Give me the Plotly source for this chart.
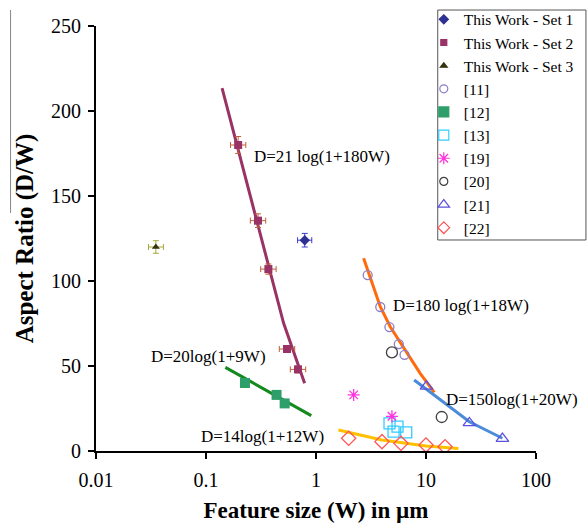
import math
import plotly.graph_objects as go

# ---------------- data ----------------
set1_w = [0.79]
set1_ar = [124]
set1_ex_plus = [0.125]
set1_ex_minus = [0.11]
set1_ey = [4]

set2_w = [0.196, 0.297, 0.369, 0.545, 0.686]
set2_ar = [180, 135.5, 107, 60, 48]
set2_ex_plus = [0.034, 0.052, 0.065, 0.095, 0.12]
set2_ex_minus = [0.029, 0.044, 0.055, 0.081, 0.102]
set2_ey = [5, 4, 3, 2, 2]

set3_w = [0.035]
set3_ar = [120]
set3_ex_plus = [0.006]
set3_ex_minus = [0.005]
set3_ey = [3.7]

ref11_w = [2.95, 3.84, 4.65, 5.66, 6.38]
ref11_ar = [103.5, 84.7, 72.9, 62.9, 56.6]

ref12_w = [0.226, 0.438, 0.519]
ref12_ar = [40, 33, 28]

ref13_w = [4.66, 5.51, 5.07, 6.61]
ref13_ar = [16.3, 14.3, 11.4, 11]

ref19_w = [2.2, 4.9]
ref19_ar = [33, 20.4]

ref20_w = [4.9, 13.9]
ref20_ar = [58, 20]

ref21_w = [10.1, 24.8, 49.5]
ref21_ar = [38, 16.5, 7.3]

ref22_w = [1.98, 3.98, 5.92, 10.0, 14.9]
ref22_ar = [7.5, 5.5, 4.5, 3.5, 2.5]

# fitted curves
fit_purple_w = [0.140, 0.508, 0.788]
fit_purple_ar = [213.4, 75.1, 39.8]

fit_green_w = [0.150, 0.906]
fit_green_ar = [49.2, 20.8]

fit_orange_w = [2.71, 3.84, 4.73, 6.71, 8.85, 11.9]
fit_orange_ar = [113.4, 84.9, 73.1, 57.5, 45.7, 34.5]

fit_blue_w = [7.81, 13.5, 24.8, 49.5]
fit_blue_ar = [41.8, 30, 17.2, 7.5]

fit_yellow_w = [1.60, 3.98, 10.0, 19.7]
fit_yellow_ar = [12.4, 6.5, 2.9, 1.5]

x_tickvals = [0.01, 0.1, 1, 10, 100]
x_ticktext = ["0.01", "0.1", "1", "10", "100"]
y_tickvals = [0, 50, 100, 150, 200, 250]

legend_names = ["This Work - Set 1", "This Work - Set 2", "This Work - Set 3",
                "[11]", "[12]", "[13]", "[19]", "[20]", "[21]", "[22]"]

FONT = "Liberation Serif, Times New Roman, serif"

fig = go.Figure()

# fit lines
for w, ar, col in [(fit_purple_w, fit_purple_ar, "#993366"),
                   (fit_green_w, fit_green_ar, "#138A1E"),
                   (fit_orange_w, fit_orange_ar, "#FF6A0D"),
                   (fit_blue_w, fit_blue_ar, "#4A8BDA"),
                   (fit_yellow_w, fit_yellow_ar, "#FFC000")]:
    fig.add_trace(go.Scatter(x=w, y=ar, mode="lines", line=dict(color=col, width=3),
                             showlegend=False, hoverinfo="skip"))

# data traces
def pts(x, y, symbol, size, color, line_color=None, line_width=1.3, **kw):
    fig.add_trace(go.Scatter(
        x=x, y=y, mode="markers", showlegend=False,
        marker=dict(symbol=symbol, size=size, color=color,
                    line=dict(color=line_color or color, width=line_width)),
        **kw))

pts(ref11_w, ref11_ar, "circle-open", 9, "#8C7FC8")
pts(ref12_w, ref12_ar, "square", 10, "#2E9E6B", line_width=0)
pts(ref13_w, ref13_ar, "square-open", 11, "#33CCFF")
pts(ref19_w, ref19_ar, "asterisk-open", 10, "#FF33DD")
pts(ref20_w, ref20_ar, "circle-open", 11, "#404040")
pts(ref21_w, ref21_ar, "triangle-up-open", 11, "#5A50DC")
pts(ref22_w, ref22_ar, "diamond-open", 11, "#FF5555")

pts(set1_w, set1_ar, "diamond", 8, "#2E3192", line_width=0,
    error_x=dict(type="data", array=set1_ex_plus, arrayminus=set1_ex_minus,
                 color="#3B3BD0", thickness=1, width=3),
    error_y=dict(type="data", array=set1_ey, color="#3B3BD0", thickness=1, width=3))
pts(set2_w, set2_ar, "square", 8, "#993366", line_width=0,
    error_x=dict(type="data", array=set2_ex_plus, arrayminus=set2_ex_minus,
                 color="#C0603A", thickness=1, width=3),
    error_y=dict(type="data", array=set2_ey, color="#C0603A", thickness=1, width=3))
pts(set3_w, set3_ar, "triangle-up", 7, "#333311", line_width=0,
    error_x=dict(type="data", array=set3_ex_plus, arrayminus=set3_ex_minus,
                 color="#A8A838", thickness=1, width=3),
    error_y=dict(type="data", array=set3_ey, color="#A8A838", thickness=1, width=3))

# legend-only entries (small symbols as in the reference)
legend_styles = [
    ("diamond", 7, "#2E3192", "#2E3192"),
    ("square", 6, "#993366", "#993366"),
    ("triangle-up", 6, "#333311", "#333311"),
    ("circle-open", 8, "#8C7FC8", "#8C7FC8"),
    ("square", 10, "#2E9E6B", "#2E9E6B"),
    ("square-open", 10, "#33CCFF", "#33CCFF"),
    ("asterisk-open", 10, "#FF33DD", "#FF33DD"),
    ("circle-open", 8, "#404040", "#404040"),
    ("triangle-up-open", 10, "#5A50DC", "#5A50DC"),
    ("diamond-open", 9, "#FF5555", "#FF5555"),
]
for name, (sym, sz, col, lc) in zip(legend_names, legend_styles):
    fig.add_trace(go.Scatter(x=[None], y=[None], mode="markers", name=name,
                             marker=dict(symbol=sym, size=sz, color=col,
                                         line=dict(color=lc, width=1.2))))

# equation labels
ann = [
    (0.264, 173, "D=21 log(1+180W)", "left"),
    (0.369, 55.6, "D=20log(1+9W)", "right"),
    (4.80, 85.5, "D=180 log(1+18W)", "left"),
    (14.6, 30.4, "D=150log(1+20W)", "left"),
    (1.24, 8.8, "D=14log(1+12W)", "right"),
]
for x, y, t, anc in ann:
    fig.add_annotation(x=math.log10(x), y=y, text=t, showarrow=False,
                       xanchor=anc, yanchor="middle",
                       font=dict(family=FONT, size=17, color="black"))

# legend border box and left edge artifact line
fig.add_shape(type="rect", xref="paper", yref="paper",
              x0=0.7767, x1=1.1135, y0=0.4965, y1=1.0376,
              line=dict(color="#555555", width=1))
fig.add_shape(type="line", xref="paper", yref="paper",
              x0=-0.1942, x1=-0.1942, y0=0.56, y1=1.0376,
              line=dict(color="#888888", width=1))

fig.update_layout(
    width=587, height=524,
    margin=dict(l=95.5, r=51.2, t=26, b=73, autoexpand=False),
    paper_bgcolor="white", plot_bgcolor="white",
    font=dict(family=FONT, color="black"),
    hovermode=False,
    legend=dict(x=0.745, y=1.0547, xanchor="left", yanchor="top",
                bgcolor="rgba(0,0,0,0)", borderwidth=0,
                font=dict(family=FONT, size=15.5, color="black"),
                itemwidth=30),
)
fig.update_xaxes(type="log", range=[-2, 2], tickvals=x_tickvals, ticktext=x_ticktext,
                 ticks="outside", ticklen=6, tickwidth=2, tickcolor="black",
                 showline=True, linecolor="black", linewidth=2,
                 showgrid=False, zeroline=False, ticklabelstandoff=4,
                 tickfont=dict(family=FONT, size=20, color="black"),
                 title=dict(text="<b>Feature size (W) in µm</b>",
                            font=dict(family=FONT, size=23, color="black"), standoff=12))
fig.update_yaxes(range=[0, 250], tickvals=y_tickvals,
                 ticks="outside", ticklen=6, tickwidth=2, tickcolor="black",
                 showline=True, linecolor="black", linewidth=2,
                 showgrid=False, zeroline=False, ticklabelstandoff=3,
                 tickfont=dict(family=FONT, size=20, color="black"),
                 title=dict(text="<b>Aspect Ratio (D/W)</b>",
                            font=dict(family=FONT, size=25, color="black"), standoff=10))

fig.write_html("out.html",
               config={"displayModeBar": False},
               post_script="document.body.style.margin='0';"
                           "document.body.style.overflow='hidden';")
